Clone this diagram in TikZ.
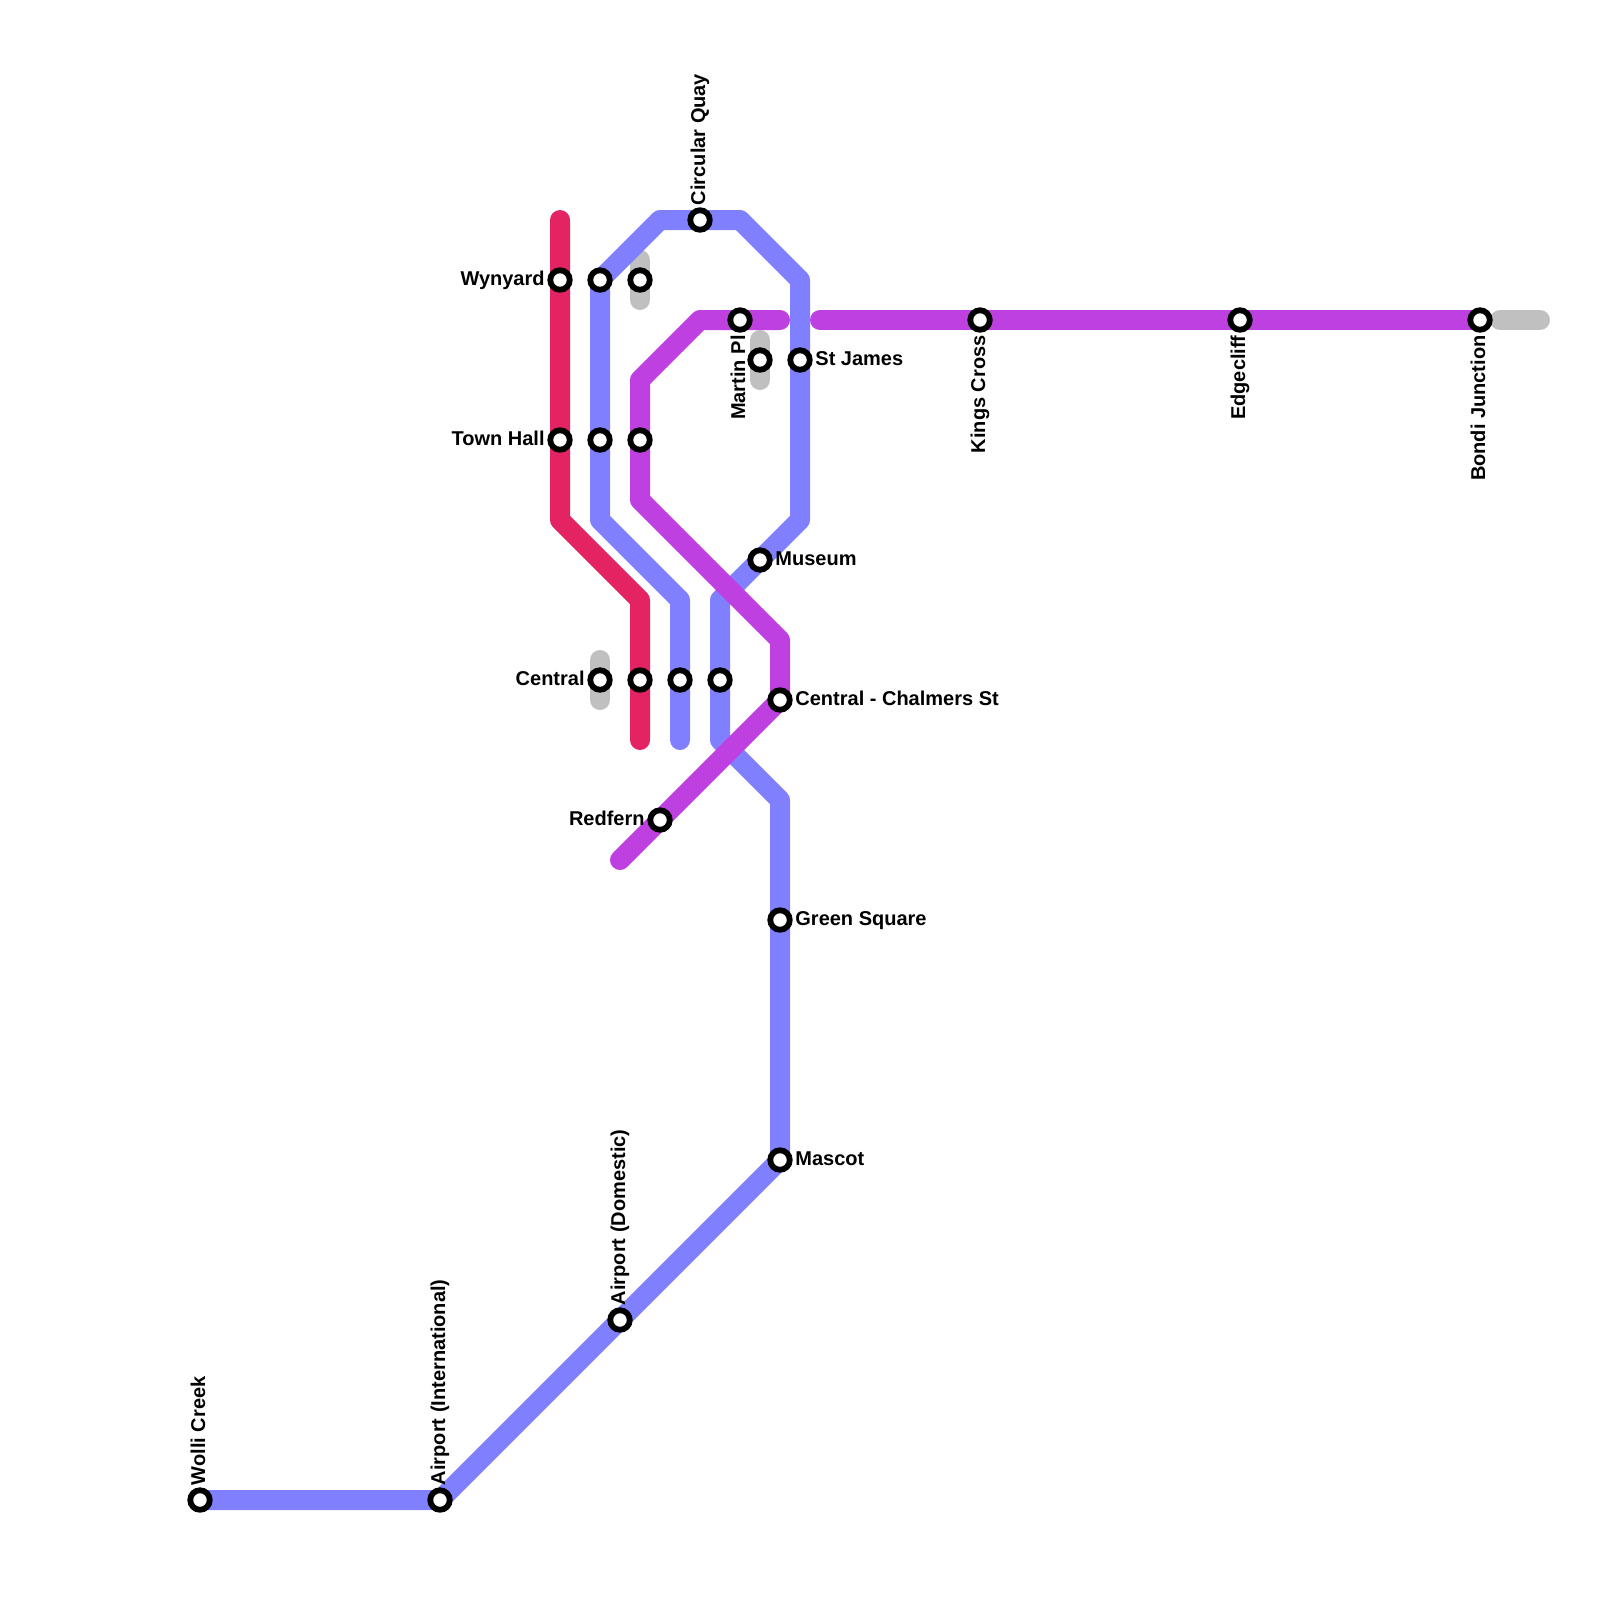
\documentclass[tikz,border=0pt]{standalone}
\usepackage{fontspec}
\setmainfont{Liberation Sans}
\usetikzlibrary{positioning}
\definecolor{linered}{RGB}{227,35,98}
\definecolor{lineblue}{RGB}{128,128,255}
\definecolor{linepurple}{RGB}{191,64,224}
\definecolor{linegrey}{RGB}{192,192,192}
\tikzset{
  metro/.style={line width=10pt,line cap=round,line join=round},
  stop/.style={circle,draw=black,fill=white,line width=2.9pt,minimum size=9.75pt,inner sep=0pt,outer sep=0pt},
  lblright/.style={anchor=base west,inner sep=0pt,xshift=7.5pt,yshift=-2.5pt},
  lblleft/.style={anchor=base east,inner sep=0pt,xshift=-7.5pt,yshift=-2.5pt},
  lblup/.style={anchor=base west,inner sep=0pt,xshift=2.5pt,yshift=7.25pt,rotate=90},
  lbldown/.style={anchor=base east,inner sep=0pt,xshift=2.5pt,yshift=-7.5pt,rotate=90},
}
\begin{document}
\begin{tikzpicture}[x=.5pt,y=-.5pt,every node/.style={font=\fontsize{10pt}{12pt}\selectfont\bfseries}]
  \useasboundingbox (0,0) rectangle (1600,1600);
  % station positions
  \foreach \stn/\sx/\sy in {wolli/200/1500,intl/440/1500,domestic/620/1320,mascot/780/1160,green/780/920,
    redfern/660/820,chalmers/780/700,central/600/680,centralb/640/680,centralc/680/680,centrald/720/680,
    museum/760/560,townhall/560/440,townhallb/600/440,townhallc/640/440,stjames/800/360,martinb/760/360,
    martin/740/320,wynyard/560/280,wynyardb/600/280,wynyardc/640/280,quay/700/220,kings/980/320,
    edgecliff/1240/320,bondi/1480/320}
    \coordinate (\stn) at (\sx,\sy);
  % grey stubs
  \draw[metro,linegrey] (640,260)--(640,300);
  \draw[metro,linegrey] (760,340)--(760,380);
  \draw[metro,linegrey] (600,660)--(600,700);
  \draw[metro,linegrey] (1500,320)--(1540,320);
  % lines
  \draw[metro,linered] (560,220)--(wynyard)--(townhall)--(560,520)--(640,600)--(centralb)--(640,740);
  \draw[metro,lineblue] (680,740)--(centralc)--(680,600)--(600,520)--(townhallb)--(wynyardb)--(660,220)--(quay)
    --(740,220)--(800,280)--(stjames)--(800,520)--(museum)--(720,600)--(centrald)--(720,740)--(780,800)
    --(green)--(mascot)--(domestic)--(intl)--(wolli);
  \draw[metro,linepurple] (620,860)--(redfern)--(chalmers)--(780,640)--(640,500)--(townhallc)--(640,380)--(700,320)
    --(martin)--(780,320);
  \draw[metro,linepurple] (820,320)--(kings)--(edgecliff)--(bondi);
  % stops
  \foreach \stn in {wolli,intl,domestic,mascot,green,redfern,chalmers,central,centralb,centralc,centrald,
    museum,townhall,townhallb,townhallc,stjames,martinb,martin,wynyard,wynyardb,wynyardc,quay,kings,edgecliff,bondi}
    \node[stop] (\stn-stop) at (\stn) {};
  % labels
  \foreach \stn/\txt in {wynyard/Wynyard,townhall/Town Hall,central/Central,redfern/Redfern}
    \node[lblleft] (\stn-lbl) at (\stn) {\txt};
  \foreach \stn/\txt in {stjames/St James,museum/Museum,chalmers/Central - Chalmers St,green/Green Square,mascot/Mascot}
    \node[lblright] (\stn-lbl) at (\stn) {\txt};
  \foreach \stn/\txt in {wolli/Wolli Creek,intl/Airport (International),domestic/Airport (Domestic),quay/Circular Quay}
    \node[lblup] (\stn-lbl) at (\stn) {\txt};
  \foreach \stn/\txt in {martin/Martin Pl,kings/Kings Cross,edgecliff/Edgecliff,bondi/Bondi Junction}
    \node[lbldown] (\stn-lbl) at (\stn) {\txt};
\end{tikzpicture}
\end{document}
